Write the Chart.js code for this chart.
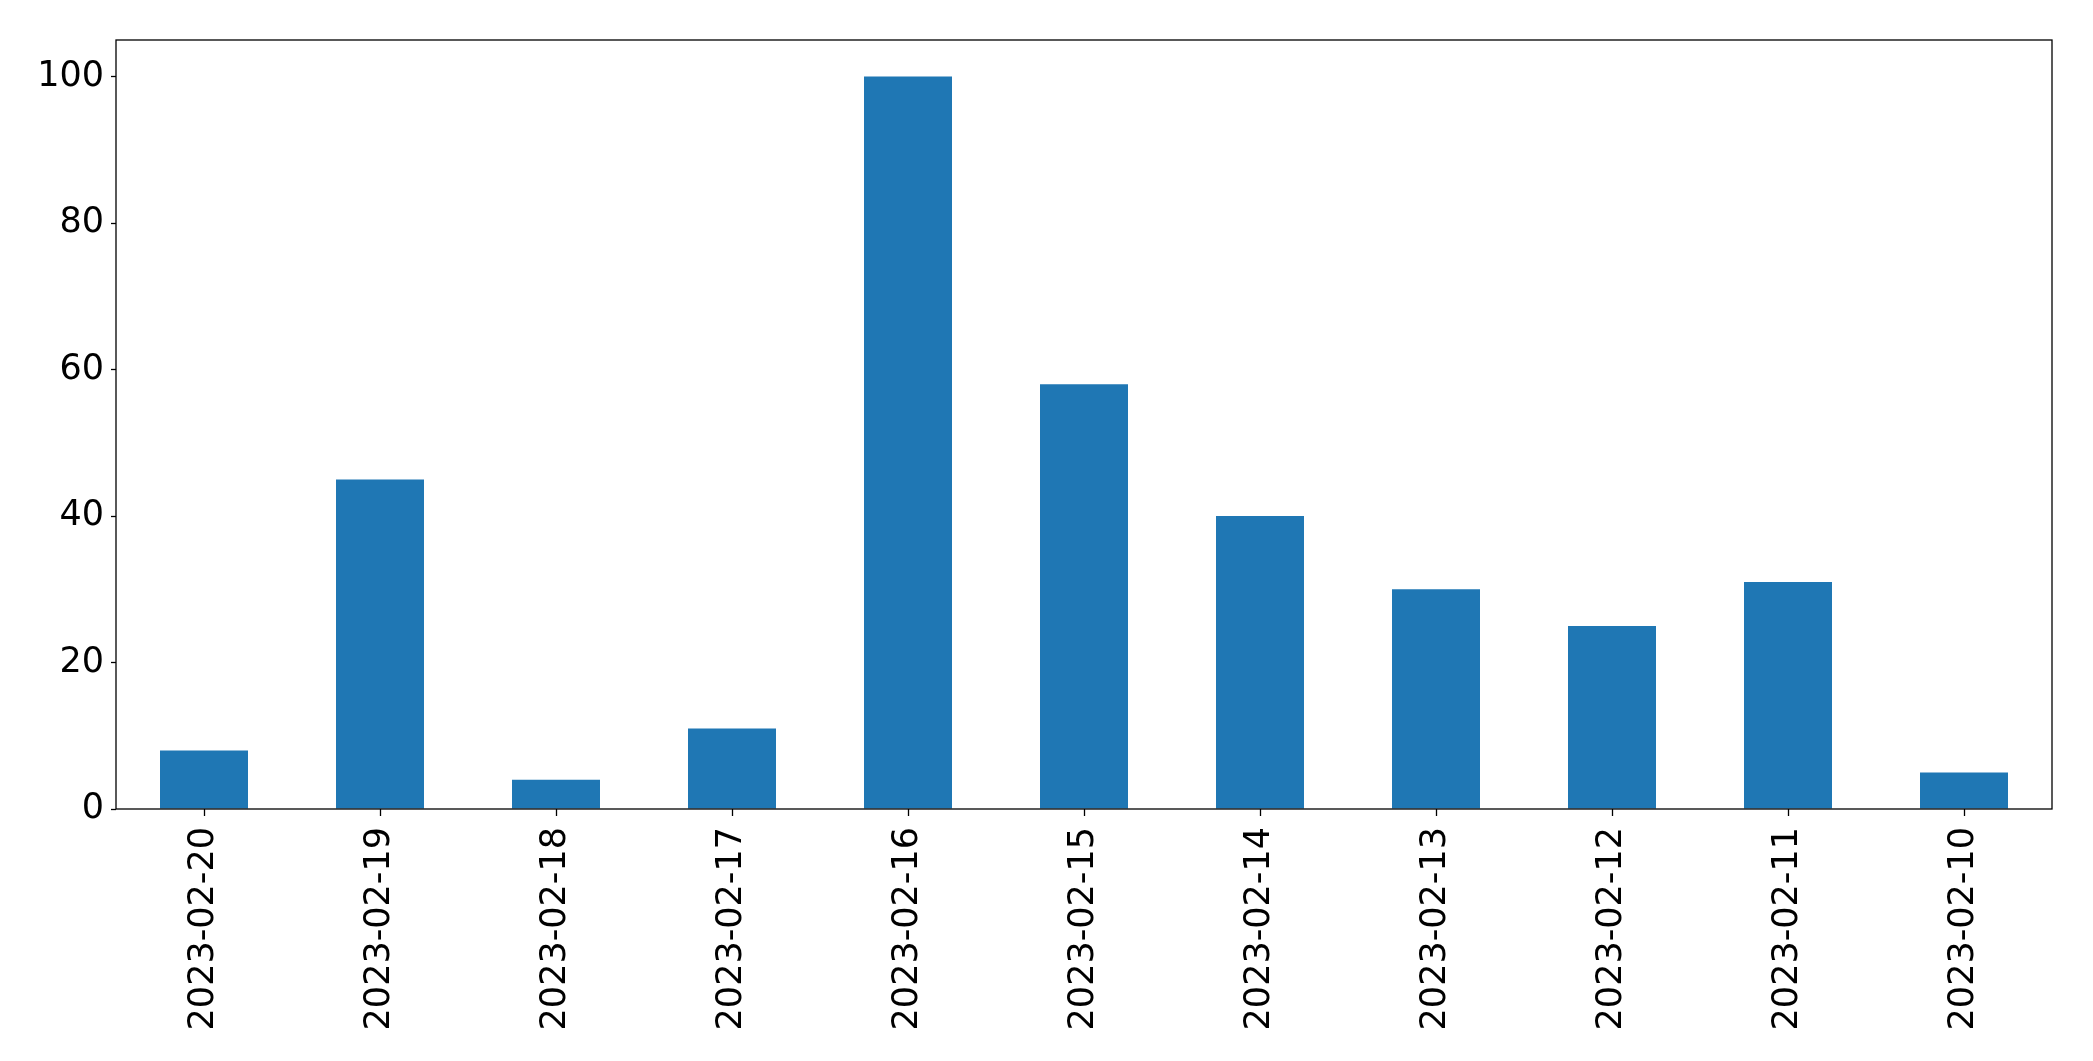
<!DOCTYPE html>
<html>
<head>
<meta charset="utf-8">
<script src="https://cdn.jsdelivr.net/npm/chart.js@4/dist/chart.umd.min.js"></script>
<style>
	html, body { margin: 0; padding: 0; background: #fff; }
	#wrap { width: 2093px; height: 1061px; }
</style>
</head>
<body>
<div id="wrap"><canvas id="chart" width="2093" height="1061"></canvas></div>
<script>
// data
var dates = ["2023-02-20", "2023-02-19", "2023-02-18", "2023-02-17", "2023-02-16", "2023-02-15",
	"2023-02-14", "2023-02-13", "2023-02-12", "2023-02-11", "2023-02-10"];
var counts = [8, 45, 4, 11, 100, 58, 40, 30, 25, 31, 5];
var yTicks = [0, 20, 40, 60, 80, 100];
var yMax = 105;

var tickFont = { family: "'DejaVu Sans', sans-serif", size: 35 };

// matplotlib style box around the plot area
var frame = {
	id: "frame",
	afterDatasetsDraw: function(chart){
		var a = chart.chartArea, ctx = chart.ctx;
		ctx.save();
		ctx.strokeStyle = "#000";
		ctx.lineWidth = 1.3;
		ctx.strokeRect(a.left, a.top, a.right - a.left, a.bottom - a.top);
		ctx.restore();
	}
};

new Chart(document.getElementById("chart").getContext("2d"), {
	type: "bar",
	data: {
		labels: dates,
		datasets: [{
			data: counts,
			backgroundColor: "#1f77b4",
			borderWidth: 0,
			categoryPercentage: 1.0,
			barPercentage: 0.5
		}]
	},
	options: {
		responsive: false,
		animation: false,
		layout: { padding: { left: 0, top: 40, right: 41, bottom: 0 } },
		plugins: { legend: { display: false }, tooltip: { enabled: false } },
		scales: {
			x: {
				offset: true,
				grid: { display: true, offset: false, drawOnChartArea: false, tickLength: 7, tickColor: "#000", tickWidth: 1.3 },
				border: { display: false },
				ticks: { color: "#000", font: tickFont, minRotation: 90, maxRotation: 90, padding: 11, autoSkip: false },
				afterFit: function(scale){ scale.height = 1061 - 809; }
			},
			y: {
				min: 0,
				max: yMax,
				grid: { display: true, drawOnChartArea: false, tickLength: 5, tickColor: "#000", tickWidth: 1.3 },
				border: { display: false },
				ticks: { color: "#000", font: tickFont, padding: 7 },
				afterBuildTicks: function(scale){
					scale.ticks = yTicks.map(function(v){ return { value: v }; });
				},
				afterFit: function(scale){ scale.width = 116; }
			}
		}
	},
	plugins: [frame]
});
</script>
</body>
</html>
